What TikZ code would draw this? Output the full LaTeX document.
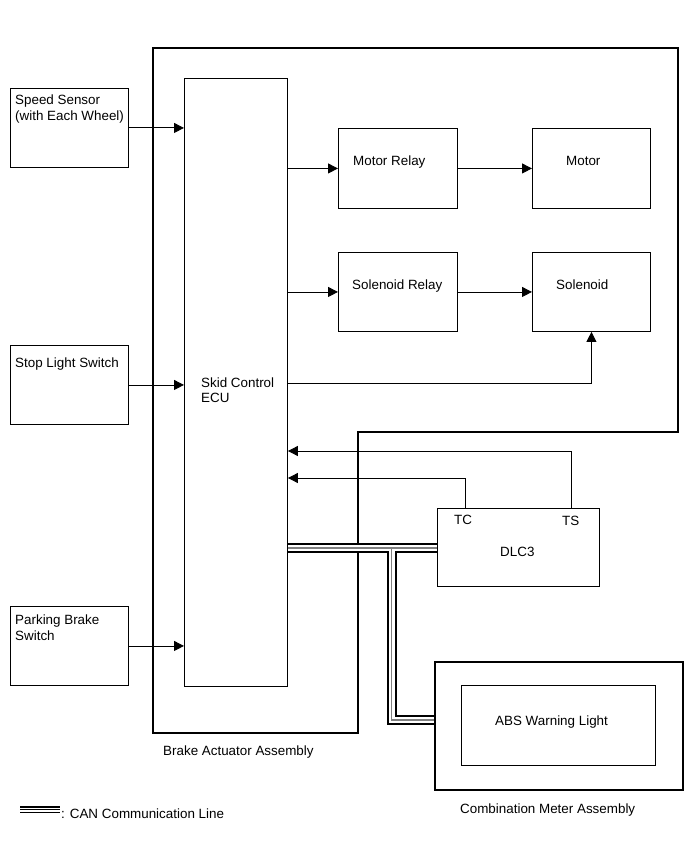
\documentclass[tikz,border=0pt]{standalone}
\usepackage{fontspec}
\setmainfont{Liberation Sans}
\usetikzlibrary{arrows.meta}
\begin{document}
\begin{tikzpicture}[x=1pt,y=-1pt,
  font=\fontsize{13.4}{16}\selectfont,
  box/.style={draw, line width=0.9pt, minimum width=#1, inner sep=0pt, anchor=north west},
  arr/.style={-{Triangle[length=10pt,width=10pt]}, line width=0.9pt},
  txt/.style={inner sep=0pt, anchor=base west},
  canblack/.style={line width=10pt, black, line join=miter},
  canwhite/.style={line width=6pt, white, line join=miter},
  cangray/.style={line width=1.2pt, gray, line join=miter}]
\useasboundingbox (0,0) rectangle (689,853);

% Brake actuator assembly outline
\draw[line width=1.5pt] (153,48) -- (678,48) -- (678,432) -- (358,432) -- (358,733) -- (153,733) -- cycle;
\node[txt] (bal) at (163,755) {Brake Actuator Assembly};

% ECU
\node[box=103pt, minimum height=608pt] (ecu) at (184,78) {};
\node[txt] (ecu1) at (201,387) {Skid Control};
\node[txt] (ecu2) at (201,402) {ECU};

% Left inputs
\node[box=118pt, minimum height=79pt] (ss) at (10,88) {};
\node[txt] (ss1) at (15,105) {Speed Sensor};
\node[txt] (ss2) at (15,121) {(with Each Wheel)};
\node[box=118pt, minimum height=79pt] (sl) at (10,345) {};
\node[txt] (sl1) at (15,367) {Stop Light Switch};
\node[box=118pt, minimum height=79pt] (pb) at (10,606) {};
\node[txt] (pb1) at (15,624) {Parking Brake};
\node[txt] (pb2) at (15,640) {Switch};

\draw[arr] (ss.east) -- (ss.east -| ecu.west);
\draw[arr] (sl.east) -- (sl.east -| ecu.west);
\draw[arr] (pb.east) -- (pb.east -| ecu.west);

% Relays and loads
\node[box=119pt, minimum height=80pt] (mr) at (338,128) {};
\node[txt] (mr1) at (353,165) {Motor Relay};
\node[box=118pt, minimum height=80pt] (mo) at (532,128) {};
\node[txt] (mo1) at (566,165) {Motor};
\node[box=119pt, minimum height=79pt] (sr) at (338,252) {};
\node[txt] (sr1) at (352,289) {Solenoid Relay};
\node[box=118pt, minimum height=79pt] (so) at (532,252) {};
\node[txt] (so1) at (556,289) {Solenoid};

\draw[arr] (ecu.east |- mr.west) -- (mr.west);
\draw[arr] (mr.east) -- (mo.west);
\draw[arr] (ecu.east |- sr.west) -- (sr.west);
\draw[arr] (sr.east) -- (so.west);
\draw[arr] (ecu.east |- 0,383) -| (so.south);

% DLC3
\node[box=162pt, minimum height=78pt] (dlc) at (437,508) {};
\node[txt] (tc) at (454,524) {TC};
\node[txt] (ts) at (562,525) {TS};
\node[txt] (dl) at (500,556) {DLC3};
\coordinate (tcp) at (465,508);
\coordinate (tsp) at (571,508);
\draw[arr] (tsp) |- (ecu.east |- 0,451);
\draw[arr] (tcp) |- (ecu.east |- 0,478);

% Combination meter
\node[box=248pt, minimum height=128pt, line width=2pt] (cm) at (434,661) {};
\node[box=194pt, minimum height=80pt] (abs) at (461,685) {};
\node[txt] (abs1) at (495,725) {ABS Warning Light};
\node[txt] (cml) at (460,813) {Combination Meter Assembly};

% CAN lines
\coordinate (c1) at (ecu.east |- 0,548);
\coordinate (c2) at (dlc.west |- 0,548);
\coordinate (cb) at (391.5,548);
\coordinate (cc) at (391.5,720);
\coordinate (cd) at (cm.west |- 0,720);
\foreach \s in {canblack,canwhite,cangray}{
  \draw[\s] (c1) -- (c2) (cb) -- (cc) -- (cd);
}
% legend
\coordinate (l1) at (20,809.5);
\coordinate (l2) at (60,809.5);
\draw[line width=6.5pt] (l1) -- (l2);
\draw[line width=4pt, white] (l1) -- (l2);
\draw[line width=1.3pt] (l1) -- (l2);
\node[txt] (leg) at (61,818) {: CAN Communication Line};
\end{tikzpicture}
\end{document}
